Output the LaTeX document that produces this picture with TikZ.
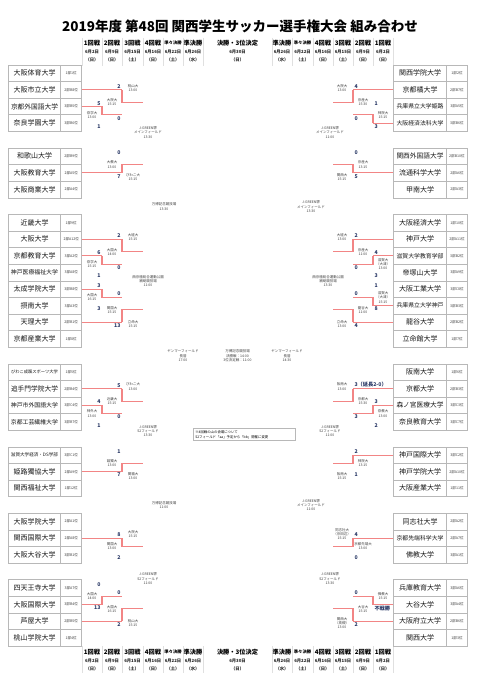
\documentclass[tikz,border=0pt]{standalone}
\usepackage{fontspec}
\setmainfont{Noto Sans CJK JP}
\usepackage{graphicx}
\definecolor{lg}{HTML}{C4C4C4}
\definecolor{bx}{HTML}{B8B8B8}
\definecolor{lr}{HTML}{F28585}
\definecolor{nv}{HTML}{2B3A67}
\pgfdeclarelayer{bg}
\pgfsetlayers{bg,main}
\tikzset{
  gl/.style={draw=lg,line width=0.7pt},
  rl/.style={draw=lr,line width=1.1pt},
  nm/.style={draw=bx,line width=0.6pt,fill=white,minimum height=16.6pt,inner sep=0pt,font=\fontsize{7}{8}\selectfont,text=black!90},
  nmL/.style={nm,minimum width=52.4pt},
  nmR/.style={nm,minimum width=53.4pt},
  rk/.style={draw=bx,line width=0.6pt,fill=white,minimum height=16.6pt,inner sep=0pt,font=\fontsize{3.6}{4}\selectfont,text=black!75},
  rkL/.style={rk,minimum width=21pt},
  rkR/.style={rk,minimum width=20.6pt},
  lab/.style={font=\fontsize{3.5}{4.2}\selectfont,align=center,inner sep=0pt,text=black!75},
  sc/.style={font=\fontsize{5.2}{5.2}\selectfont\bfseries,text=nv,inner sep=0pt},
  hdA/.style={font=\fontsize{6.2}{7}\selectfont\bfseries,inner sep=0pt},
  hdS/.style={font=\fontsize{4.3}{5}\selectfont\bfseries,inner sep=0pt},
  hdD/.style={font=\fontsize{4.3}{5}\selectfont\bfseries,inner sep=0pt,text=black!85},
  sep/.style={draw=black!12,line width=0.5pt},
}
\newcommand\fitn[1]{\setbox0=\hbox{#1}\ifdim\wd0>47pt\resizebox{47pt}{!}{#1}\else#1\fi}
% match, left side: col, next col, yA, yB, winner, label, label x, score A, score B
\newcommand\mL[9]{%
  \pgfmathsetmacro\ym{(#3+#4)/2}%
  \begin{pgfonlayer}{bg}\draw[gl] (#1,#3) -- (#1,#4) (#1,\ym) -- (#2,\ym);\end{pgfonlayer}%
  \ifnum#5=1 \draw[rl] (#1,#3) -- (#1,\ym) -- (#2,\ym);\fi
  \ifnum#5=2 \draw[rl] (#1,#4) -- (#1,\ym) -- (#2,\ym);\fi
  \node[lab] at (#7,\ym) {#6};%
  \node[sc,anchor=south east] at (#1-1.3,#3-1.2) {#8};%
  \node[sc,anchor=north east] at (#1-1.3,#4+1.2) {#9};%
}
\newcommand\mR[9]{%
  \pgfmathsetmacro\ym{(#3+#4)/2}%
  \begin{pgfonlayer}{bg}\draw[gl] (#1,#3) -- (#1,#4) (#1,\ym) -- (#2,\ym);\end{pgfonlayer}%
  \ifnum#5=1 \draw[rl] (#1,#3) -- (#1,\ym) -- (#2,\ym);\fi
  \ifnum#5=2 \draw[rl] (#1,#4) -- (#1,\ym) -- (#2,\ym);\fi
  \node[lab] at (#7,\ym) {#6};%
  \node[sc,anchor=south west] at (#1+1.3,#3-1.2) {#8};%
  \node[sc,anchor=north west] at (#1+1.3,#4+1.2) {#9};%
}
% team: id, y, name, rank, first column, red
\newcommand\tL[6]{%
  \node[nmL] (#1) at (34.5,#2) {\fitn{#3}};%
  \node[rkL] (#1r) at (71.2,#2) {#4};%
  \ifnum#6=1 \draw[rl] (#1r.east) -- (#5,#2);\else\begin{pgfonlayer}{bg}\draw[gl] (#1r.east) -- (#5,#2);\end{pgfonlayer}\fi
}
\newcommand\tR[6]{%
  \node[nmR] (#1) at (420,#2) {\fitn{#3}};%
  \node[rkR] (#1r) at (457,#2) {#4};%
  \ifnum#6=1 \draw[rl] (#1.west) -- (#5,#2);\else\begin{pgfonlayer}{bg}\draw[gl] (#1.west) -- (#5,#2);\end{pgfonlayer}\fi
}
\newcommand\hd[6]{%
  \node[#4] at (#1,#2) {#3};%
  \node[hdD] at (#1,#2+8.7) {#5};%
  \node[hdD] at (#1,#2+16.8) {#6};%
}
\newcommand\hdrow[1]{%
  \hd{92}{#1}{1回戦}{hdA}{6月2日}{（日）}
  \hd{112}{#1}{2回戦}{hdA}{6月9日}{（日）}
  \hd{132.5}{#1}{3回戦}{hdA}{6月15日}{（土）}
  \hd{153}{#1}{4回戦}{hdA}{6月16日}{（日）}
  \hd{173}{#1}{準々決勝}{hdS}{6月22日}{（土）}
  \hd{193}{#1}{準決勝}{hdA}{6月26日}{（水）}
  \hd{237.5}{#1}{決勝・3位決定}{hdA}{6月30日}{（日）}
  \hd{282}{#1}{準決勝}{hdA}{6月26日}{（水）}
  \hd{302.5}{#1}{準々決勝}{hdS}{6月22日}{（土）}
  \hd{323}{#1}{4回戦}{hdA}{6月16日}{（日）}
  \hd{343}{#1}{3回戦}{hdA}{6月15日}{（土）}
  \hd{363}{#1}{2回戦}{hdA}{6月9日}{（日）}
  \hd{383}{#1}{1回戦}{hdA}{6月2日}{（日）}
}
\begin{document}
\begin{tikzpicture}[x=1pt,y=-1pt]
\useasboundingbox (0,0) rectangle (480,687);
\fill[white] (0,0) rectangle (480,687);
\node[font=\fontsize{13.5}{15}\selectfont\bfseries] (title) at (240,26) {2019年度 第48回 関西学生サッカー選手権大会 組み合わせ};
% header grid
\foreach \x in {82,102,122,143,163,183,203,272,292,313,333,353,373,393} {
  \draw[sep] (\x,38) -- (\x,66);
  \draw[sep] (\x,646) -- (\x,673);
}
\hdrow{43.2}
\hdrow{651.8}
% ---------------- left teams
\tL{L0}{73.3}{大阪体育大学}{1部1位}{143}{0}
\tL{L1}{89.9}{大阪市立大学}{2部B8位}{122}{1}
\tL{L2}{106.5}{京都外国語大学}{3部B5位}{102}{1}
\tL{L3}{123.1}{奈良学園大学}{3部B6位}{102}{0}
\tL{L5}{156.3}{和歌山大学}{2部B9位}{122}{0}
\tL{L6}{172.9}{大阪教育大学}{2部A5位}{122}{1}
\tL{L7}{189.5}{大阪商業大学}{2部A4位}{143}{0}
\tL{L9}{222.7}{近畿大学}{1部9位}{143}{0}
\tL{L10}{239.3}{大阪大学}{2部A12位}{122}{1}
\tL{L11}{255.9}{京都教育大学}{3部A2位}{102}{1}
\tL{L12}{272.5}{神戸医療福祉大学}{3部A8位}{102}{0}
\tL{L13}{289.1}{太成学院大学}{3部B8位}{102}{1}
\tL{L14}{305.7}{摂南大学}{3部A3位}{102}{0}
\tL{L15}{322.3}{天理大学}{2部B1位}{122}{1}
\tL{L16}{338.9}{京都産業大学}{1部8位}{143}{0}
\tL{L18}{372.1}{びわこ成蹊スポーツ大学}{1部5位}{143}{0}
\tL{L19}{388.7}{追手門学院大学}{2部B4位}{122}{1}
\tL{L20}{405.3}{神戸市外国語大学}{3部C4位}{102}{1}
\tL{L21}{421.9}{京都工芸繊維大学}{3部B7位}{102}{0}
\tL{L23}{455.1}{滋賀大学経済・DS学部}{3部C1位}{122}{0}
\tL{L24}{471.7}{姫路獨協大学}{2部A9位}{122}{1}
\tL{L25}{488.3}{関西福祉大学}{1部12位}{143}{0}
\tL{L27}{521.5}{大阪学院大学}{2部A1位}{143}{0}
\tL{L28}{538.1}{関西国際大学}{2部A8位}{122}{1}
\tL{L29}{554.7}{大阪大谷大学}{3部B1位}{122}{0}
\tL{L31}{587.9}{四天王寺大学}{3部A7位}{102}{0}
\tL{L32}{604.5}{大阪国際大学}{3部B4位}{102}{1}
\tL{L33}{621.1}{芦屋大学}{2部B5位}{122}{1}
\tL{L34}{637.7}{桃山学院大学}{1部4位}{143}{0}
% ---------------- right teams
\tR{R0}{73.3}{関西学院大学}{1部2位}{333}{0}
\tR{R1}{89.9}{京都橘大学}{2部B7位}{353}{1}
\tR{R2}{106.5}{兵庫県立大学姫路}{3部A5位}{373}{0}
\tR{R3}{123.1}{大阪経済法科大学}{3部B6位}{373}{1}
\tR{R5}{156.3}{関西外国語大学}{2部B10位}{353}{0}
\tR{R6}{172.9}{流通科学大学}{2部A6位}{353}{1}
\tR{R7}{189.5}{甲南大学}{2部A3位}{333}{0}
\tR{R9}{222.7}{大阪経済大学}{1部10位}{333}{0}
\tR{R10}{239.3}{神戸大学}{2部A11位}{353}{1}
\tR{R11}{255.9}{滋賀大学教育学部}{3部B2位}{373}{1}
\tR{R12}{272.5}{帝塚山大学}{3部A9位}{373}{0}
\tR{R13}{289.1}{大阪工業大学}{3部C8位}{373}{0}
\tR{R14}{305.7}{兵庫県立大学神戸}{3部B3位}{373}{1}
\tR{R15}{322.3}{龍谷大学}{2部B2位}{353}{1}
\tR{R16}{338.9}{立命館大学}{1部7位}{333}{0}
\tR{R18}{372.1}{阪南大学}{1部6位}{333}{0}
\tR{R19}{388.7}{京都大学}{2部B3位}{353}{1}
\tR{R20}{405.3}{森ノ宮医療大学}{3部C3位}{373}{1}
\tR{R21}{421.9}{奈良教育大学}{3部C7位}{373}{0}
\tR{R23}{455.1}{神戸国際大学}{3部C2位}{353}{1}
\tR{R24}{471.7}{神戸学院大学}{2部A10位}{353}{0}
\tR{R25}{488.3}{大阪産業大学}{1部11位}{333}{0}
\tR{R27}{521.5}{同志社大学}{2部A2位}{333}{0}
\tR{R28}{538.1}{京都先端科学大学}{2部A7位}{353}{1}
\tR{R29}{554.7}{佛教大学}{3部A1位}{353}{0}
\tR{R31}{587.9}{兵庫教育大学}{3部A6位}{373}{0}
\tR{R32}{604.5}{大谷大学}{3部A4位}{373}{1}
\tR{R33}{621.1}{大阪府立大学}{2部B6位}{353}{1}
\tR{R34}{637.7}{関西大学}{1部3位}{333}{0}
% ---------------- left matches
\mL{102}{122}{106.5}{123.1}{1}{奈学大\\13:00}{92}{5}{1}
\mL{122}{143}{89.9}{114.8}{1}{大院大\\15:15}{112}{2}{0}
\mL{143}{163}{73.3}{102.35}{0}{桃山大\\13:00}{133}{}{}
\mL{122}{143}{156.3}{172.9}{2}{大教大\\13:00}{112}{0}{7}
\mL{143}{163}{164.6}{189.5}{0}{びわこ大\\15:15}{133}{}{}
\mL{163}{183}{87.825}{177.05}{0}{J-GREEN堺\\メインフィールド\\13:30}{148}{}{}
\mL{102}{122}{255.9}{272.5}{1}{奈学大\\15:15}{92}{6}{1}
\mL{102}{122}{289.1}{305.7}{1}{大国大\\16:15}{92}{3}{3}
\mL{122}{143}{239.3}{264.2}{1}{大国大\\14:00}{112}{2}{0}
\mL{122}{143}{297.4}{322.3}{2}{関国大\\15:15}{112}{0}{13}
\mL{143}{163}{222.7}{251.75}{0}{大経大\\15:15}{133}{}{}
\mL{143}{163}{309.85}{338.9}{0}{立命大\\15:15}{133}{}{}
\mL{163}{183}{237.225}{324.375}{0}{西京極総合運動公園\\補助競技場\\11:00}{148}{}{}
\mL{183}{203}{132.4375}{280.8}{0}{万博記念競技場\\13:30}{164}{}{}
\mL{102}{122}{405.3}{421.9}{1}{神外大\\13:00}{92}{4}{1}
\mL{122}{143}{388.7}{413.6}{1}{近畿大\\15:15}{112}{5}{0}
\mL{143}{163}{372.1}{401.15}{0}{びわこ大\\13:00}{133}{}{}
\mL{122}{143}{455.1}{471.7}{2}{姫獨大\\13:00}{112}{1}{7}
\mL{143}{163}{463.4}{488.3}{0}{関福大\\13:00}{133}{}{}
\mL{163}{183}{386.625}{475.85}{0}{J-GREEN堺\\S2フィールド\\13:30}{148}{}{}
\mL{122}{143}{538.1}{554.7}{1}{関国大\\13:00}{112}{8}{2}
\mL{143}{163}{521.5}{546.4}{0}{大院大\\15:15}{133}{}{}
\mL{102}{122}{587.9}{604.5}{2}{大国大\\14:00}{92}{0}{13}
\mL{122}{143}{596.2}{621.1}{2}{大国大\\16:15}{112}{0}{2}
\mL{143}{163}{608.65}{637.7}{0}{桃山大\\15:15}{133}{}{}
\mL{163}{183}{533.95}{623.175}{0}{J-GREEN堺\\S2フィールド\\11:00}{148}{}{}
\mL{183}{203}{431.2375}{578.5625}{0}{万博記念競技場\\11:00}{164}{}{}
\mL{203}{213}{206.61875}{504.9}{0}{ヤンマーフィールド\\長居\\17:00}{183}{}{}
% ---------------- right matches
\mR{373}{353}{106.5}{123.1}{2}{神院大\\15:15}{383}{1}{3}
\mR{353}{333}{89.9}{114.8}{1}{京産大\\15:30}{363}{4}{0}
\mR{333}{313}{73.3}{102.35}{0}{大院大\\13:00}{342}{}{}
\mR{353}{333}{156.3}{172.9}{2}{京産大\\13:15}{363}{0}{5}
\mR{333}{313}{164.6}{189.5}{0}{関西大\\15:15}{342}{}{}
\mR{313}{293}{87.825}{177.05}{0}{J-GREEN堺\\メインフィールド\\11:00}{330}{}{}
\mR{373}{353}{255.9}{272.5}{1}{滋賀大\\（大津）\\13:00}{383}{4}{3}
\mR{373}{353}{289.1}{305.7}{2}{滋賀大\\（大津）\\15:15}{383}{1}{8}
\mR{353}{333}{239.3}{264.2}{1}{京産大\\11:00}{363}{2}{0}
\mR{353}{333}{297.4}{322.3}{2}{龍谷大\\11:00}{363}{0}{4}
\mR{333}{313}{222.7}{251.75}{0}{大経大\\13:00}{342}{}{}
\mR{333}{313}{309.85}{338.9}{0}{立命大\\13:00}{342}{}{}
\mR{313}{293}{237.225}{324.375}{0}{西京極総合運動公園\\補助競技場\\13:30}{328}{}{}
\mR{293}{272}{132.4375}{280.8}{0}{J-GREEN堺\\メインフィールド\\13:30}{311}{}{}
\mR{373}{353}{405.3}{421.9}{1}{奈教大\\13:00}{383}{3}{2}
\mR{353}{333}{388.7}{413.6}{1}{京都大\\15:30}{363}{3（延長2-0）}{3}
\mR{333}{313}{372.1}{401.15}{0}{阪南大\\13:00}{342}{}{}
\mR{353}{333}{455.1}{471.7}{1}{神院大\\13:15}{363}{2}{1}
\mR{333}{313}{463.4}{488.3}{0}{阪南大\\15:15}{342}{}{}
\mR{313}{293}{386.625}{475.85}{0}{J-GREEN堺\\S2フィールド\\11:00}{330}{}{}
\mR{353}{333}{538.1}{554.7}{1}{京都先端大\\13:00}{363}{4}{0}
\mR{333}{313}{521.5}{546.4}{0}{同志社大\\（京田辺）\\15:15}{342}{}{}
\mR{373}{353}{587.9}{604.5}{2}{佛教大\\15:15}{383}{}{不戦勝}
\mR{353}{333}{596.2}{621.1}{2}{大谷大\\15:15}{363}{0}{2}
\mR{333}{313}{608.65}{637.7}{0}{関西大\\（高槻）\\13:00}{342}{}{}
\mR{313}{293}{533.95}{623.175}{0}{J-GREEN堺\\S2フィールド\\13:30}{330}{}{}
\mR{293}{272}{431.2375}{578.5625}{0}{J-GREEN堺\\メインフィールド\\11:00}{311}{}{}
\mR{272}{262}{206.61875}{504.9}{0}{ヤンマーフィールド\\長居\\14:30}{287}{}{}
% final
\node[lab] (final) at (237.5,355.76) {万博記念競技場\\決勝戦：14:00\\3位決定戦：11:00};
% note
\node[draw=bx,line width=0.5pt,fill=white,font=\fontsize{3.4}{5}\selectfont,align=left,text width=98pt,inner sep=2pt,anchor=north west] (note) at (193,428) {※4回戦の山の会場について\\ S2フィールド「aa」予定から「bb」開催に変更};
\end{tikzpicture}
\end{document}
